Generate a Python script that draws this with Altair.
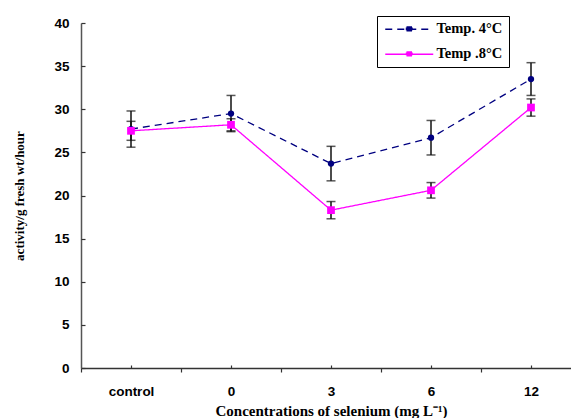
import altair as alt
import pandas as pd

categories = ["control", "0", "3", "6", "12"]
series_names = ["Temp. 4°C", "Temp .8°C"]
t4_values = [27.7, 29.5, 23.7, 26.7, 33.5]
t4_errors = [2.1, 2.1, 2.0, 2.0, 1.9]
t8_values = [27.5, 28.2, 18.3, 20.6, 30.2]
t8_errors = [1.1, 0.7, 1.0, 0.9, 1.0]
y_ticks = [0, 5, 10, 15, 20, 25, 30, 35, 40]

rows = []
for name, vals, errs in [(series_names[0], t4_values, t4_errors), (series_names[1], t8_values, t8_errors)]:
    for i, (c, v, e) in enumerate(zip(categories, vals, errs)):
        rows.append({"cat": c, "order": i, "series": name, "value": v, "lo": v - e, "hi": v + e})
df = pd.DataFrame(rows)

serif = "Liberation Serif"
sans = "Liberation Sans"

xscale = alt.Scale(domain=categories, paddingInner=0, paddingOuter=0, range=[0, 500])
yscale = alt.Scale(domain=[0, 40], nice=False, zero=True)

x_main_axis = alt.Axis(title="Concentrations of selenium (mg L⁻¹)", labelAngle=0,
                       tickBand="extent", tickSize=4, labelPadding=12,
                       labelFont=sans, labelFontWeight="bold", labelFontSize=13.5,
                       labelColor="black", domainColor="#333", tickColor="#333",
                       domainWidth=1.5, tickWidth=1.2,
                       titleFont=serif, titleFontWeight="bold", titleFontSize=15,
                       titleColor="black", titleY=35, titleBaseline="top")
x_minor_axis = alt.Axis(title=None, orient="bottom", labels=False, domain=False,
                        tickSize=3, offset=-3, tickColor="#333", tickWidth=1.2)
y_main_axis = alt.Axis(title="activity/g fresh wt/hour", values=y_ticks, ticks=False,
                       labelPadding=12, labelFont=sans, labelFontWeight="bold",
                       labelFontSize=13.5, labelColor="black", domainColor="#555",
                       domainWidth=1.5, grid=False,
                       titleFont=serif, titleFontWeight="bold", titleFontSize=13,
                       titleColor="black", titleX=-62, titleY=172.5,
                       titleBaseline="middle", titleAngle=-90)
y_minor_axis = alt.Axis(title=None, orient="left", values=y_ticks, labels=False,
                        domain=False, tickSize=4, offset=-4, tickColor="#333",
                        tickWidth=1.2, grid=False)

x_main = alt.X("cat:N", scale=xscale, sort=categories, axis=x_main_axis)
x_minor = alt.X("cat:N", scale=xscale, sort=categories, axis=x_minor_axis)
x_plain = alt.X("cat:N", scale=xscale, sort=categories, axis=None)
y_plain = alt.Y("value:Q", scale=yscale, axis=None)

legend_symbol = ("M-1,0H8.6"
                 "M3.25,-0.45H4.35M3.1,-0.2H4.5M3.1,0.05H4.5M3.25,0.3H4.35")
color = alt.Color("series:N", scale=alt.Scale(domain=series_names, range=["#000080", "#FF00FF"]),
                  legend=alt.Legend(title=None, orient="none", legendX=296, legendY=-7,
                                    strokeColor="black", padding=6, fillColor="white",
                                    labelFont=serif, labelFontWeight="bold", labelFontSize=14.5,
                                    labelColor="black", rowPadding=10, labelOffset=39,
                                    symbolType=legend_symbol,
                                    symbolSize=100, symbolStrokeWidth=1.5))
dash = alt.StrokeDash("series:N", scale=alt.Scale(domain=series_names, range=[[7, 5], [1, 0]]),
                      legend=None)

base = alt.Chart(df)

rules = base.mark_rule(color="#111", strokeWidth=1.5).encode(
    x=x_main, y=alt.Y("lo:Q", scale=yscale, axis=y_main_axis), y2="hi:Q")
caps_lo = base.mark_tick(color="#111", orient="horizontal", size=9, thickness=1.5).encode(
    x=x_minor, y=alt.Y("lo:Q", scale=yscale, axis=y_minor_axis))
caps_hi = base.mark_tick(color="#111", orient="horizontal", size=9, thickness=1.5).encode(
    x=x_plain, y=alt.Y("hi:Q", scale=yscale, axis=None))
lines = base.mark_line(strokeWidth=1.3).encode(
    x=x_plain, y=y_plain, color=color, strokeDash=dash, order=alt.Order("order:Q"))
pts4 = base.transform_filter(alt.datum.series == series_names[0]).mark_point(
    shape="circle", filled=True, size=40, opacity=1, color="#000080").encode(x=x_plain, y=y_plain)
pts8 = base.transform_filter(alt.datum.series == series_names[1]).mark_point(
    shape="square", filled=True, size=60, opacity=1, color="#FF00FF").encode(x=x_plain, y=y_plain)

chart = alt.layer(rules, caps_lo, caps_hi, lines, pts4, pts8).resolve_axis(
    x="independent", y="independent"
).properties(
    width=490, height=345,
    autosize=alt.AutoSizeParams(type="none"),
    padding={"left": 73, "top": 15, "right": 0, "bottom": 50},
).configure_view(stroke=None)

chart.save("out.html", embed_options={"renderer": "svg", "actions": False})
